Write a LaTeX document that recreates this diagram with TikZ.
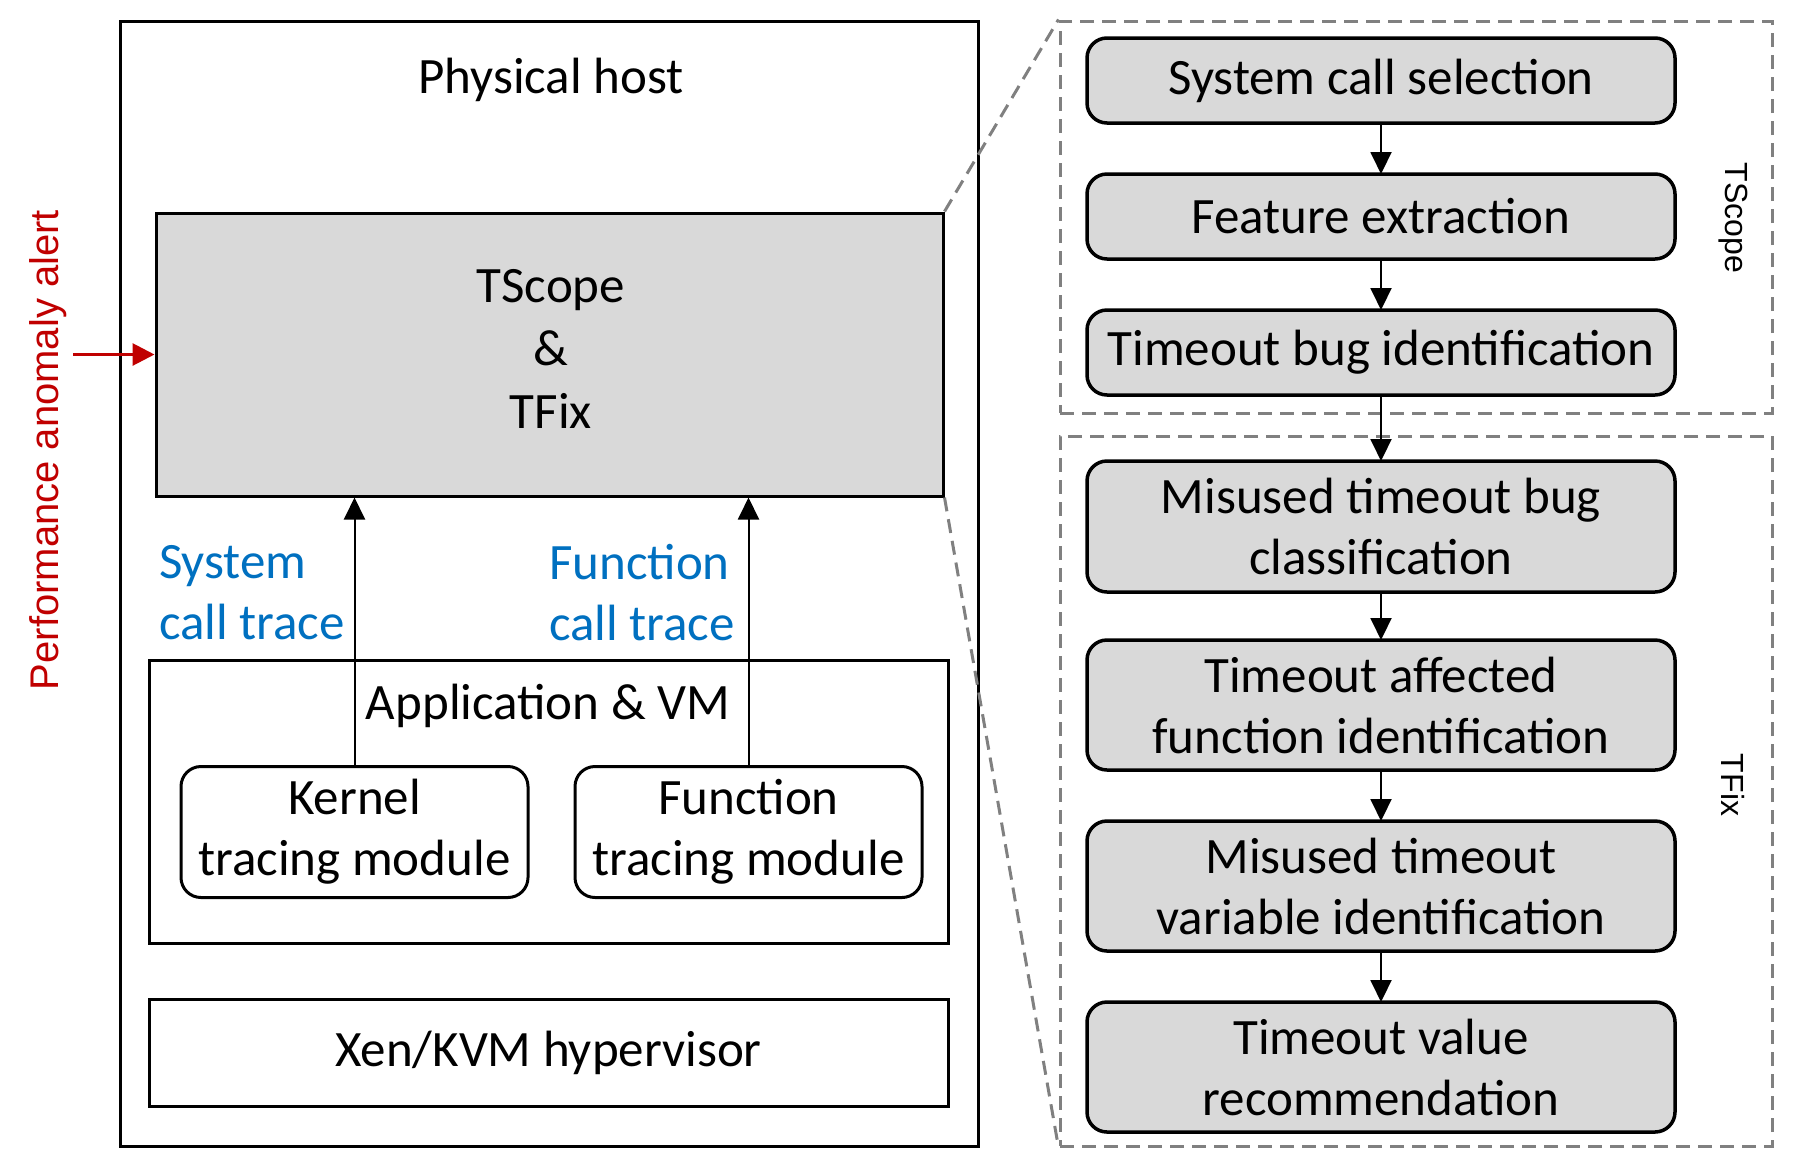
\documentclass[tikz,border=0pt]{standalone}
\usepackage{fontspec}
\setmainfont{Carlito}
\newfontfamily\arialfont{Liberation Sans}
\usetikzlibrary{positioning,arrows.meta}
\definecolor{boxgray}{HTML}{D9D9D9}
\definecolor{traceblue}{HTML}{0070C0}
\definecolor{alertred}{HTML}{C00000}
\definecolor{dashgray}{HTML}{808080}

\begin{document}
\begin{tikzpicture}[x=0.5pt, y=-0.5pt, node distance=25.5pt,
    font=\fontsize{25.5}{30.5}\selectfont,
    hostbox/.style = {draw, line width=1.5pt, inner sep=0pt},
    tracebox/.style = {draw, line width=1.5pt, rounded corners=10pt, align=center,
        minimum width=173.5pt, minimum height=65.5pt, inner sep=0pt},
    stepbox/.style = {draw, line width=1.75pt, rounded corners=10pt, fill=boxgray, align=center,
        minimum width=294pt, minimum height=42.5pt, inner sep=0pt, outer sep=0pt},
    groupbox/.style = {draw=dashgray, line width=1.5pt, dash pattern=on 7pt off 4pt, inner sep=0pt},
    zoomline/.style = {draw=dashgray, line width=1.5pt, dash pattern=on 7pt off 4pt},
    tracelabel/.style = {text=traceblue, align=left, anchor=west},
    sidelabel/.style = {font=\arialfont\fontsize{16}{19}\selectfont, rotate=-90},
    flow/.style = {-{Triangle[length=11pt,width=10.5pt]}, line width=1pt},
    alertflow/.style = {-{Triangle[length=11pt,width=11pt]}, line width=1.5pt, alertred}]
    \useasboundingbox (0,0) rectangle (1808,1168);

    \node[hostbox, minimum width=429pt, minimum height=562.5pt] (host) at (549,583.5) {};
    \node (hosttitle) at (551,80) {Physical host};
    \node[hostbox, fill=boxgray, minimum width=393.5pt, minimum height=141.5pt] (core) at (549.5,354.5) {};
    \node[align=center, font=\fontsize{25.5}{31.5}\selectfont] (coretitle) at (551,349) {TScope\\\&\\TFix};
    \node[hostbox, minimum width=399.5pt, minimum height=141.5pt] (app) at (548.5,801.5) {};
    \node (apptitle) at (548,706) {Application \& VM};
    \node[tracebox] (kernel) at (354.5,832) {Kernel\\tracing module};
    \node[tracebox] (ftrace) at (748.5,832) {Function\\tracing module};
    \node[hostbox, minimum width=399.5pt, minimum height=53.5pt] (hyper) at (548.5,1053) {Xen/KVM hypervisor};
    \node[tracelabel] (syslabel) at (152,592.5) {System\\call trace};
    \node[tracelabel] (funclabel) at (542,592.5) {Function\\call trace};
    \draw[flow] (kernel.north) -- (kernel.north |- core.south);
    \draw[flow] (ftrace.north) -- (ftrace.north |- core.south);

    \node[rotate=90, text=alertred, font=\arialfont\fontsize{20}{24}\selectfont] (alerttext) at (48,450) {Performance anomaly alert};
    \coordinate (alertin) at (73,354.5);
    \draw[alertflow] (alertin) -- (core.west);

    \node[groupbox, minimum width=356pt, minimum height=196pt] (scopebox) at (1416,217) {};
    \node[groupbox, minimum width=356pt, minimum height=355pt] (fixbox) at (1416,791) {};
    \node[sidelabel] (scopelabel) at (1733,218) {TScope};
    \node[sidelabel] (fixlabel) at (1733,785) {TFix};
    \draw[zoomline] (core.north east) -- (scopebox.north west);
    \draw[zoomline] (core.south east) -- (fixbox.south west);

    \node[stepbox] (1) at (1381,80.5) {System call selection};
    \node[stepbox] (2) [below=of 1] {Feature extraction};
    \node[stepbox] (3) [below=of 2] {Timeout bug identification};
    \node[stepbox, minimum height=65.5pt] (4) [below=33pt of 3] {Misused timeout bug\\classification};
    \node[stepbox, minimum height=65pt] (5) [below=24pt of 4] {Timeout affected\\function identification};
    \node[stepbox, minimum height=65pt] (6) [below=of 5] {Misused timeout\\variable identification};
    \node[stepbox, minimum height=65pt] (7) [below=of 6] {Timeout value\\recommendation};
    \foreach \a/\b in {1/2,2/3,3/4,4/5,5/6,6/7}
        \draw[flow] (\a) -- (\b);
\end{tikzpicture}
\end{document}
